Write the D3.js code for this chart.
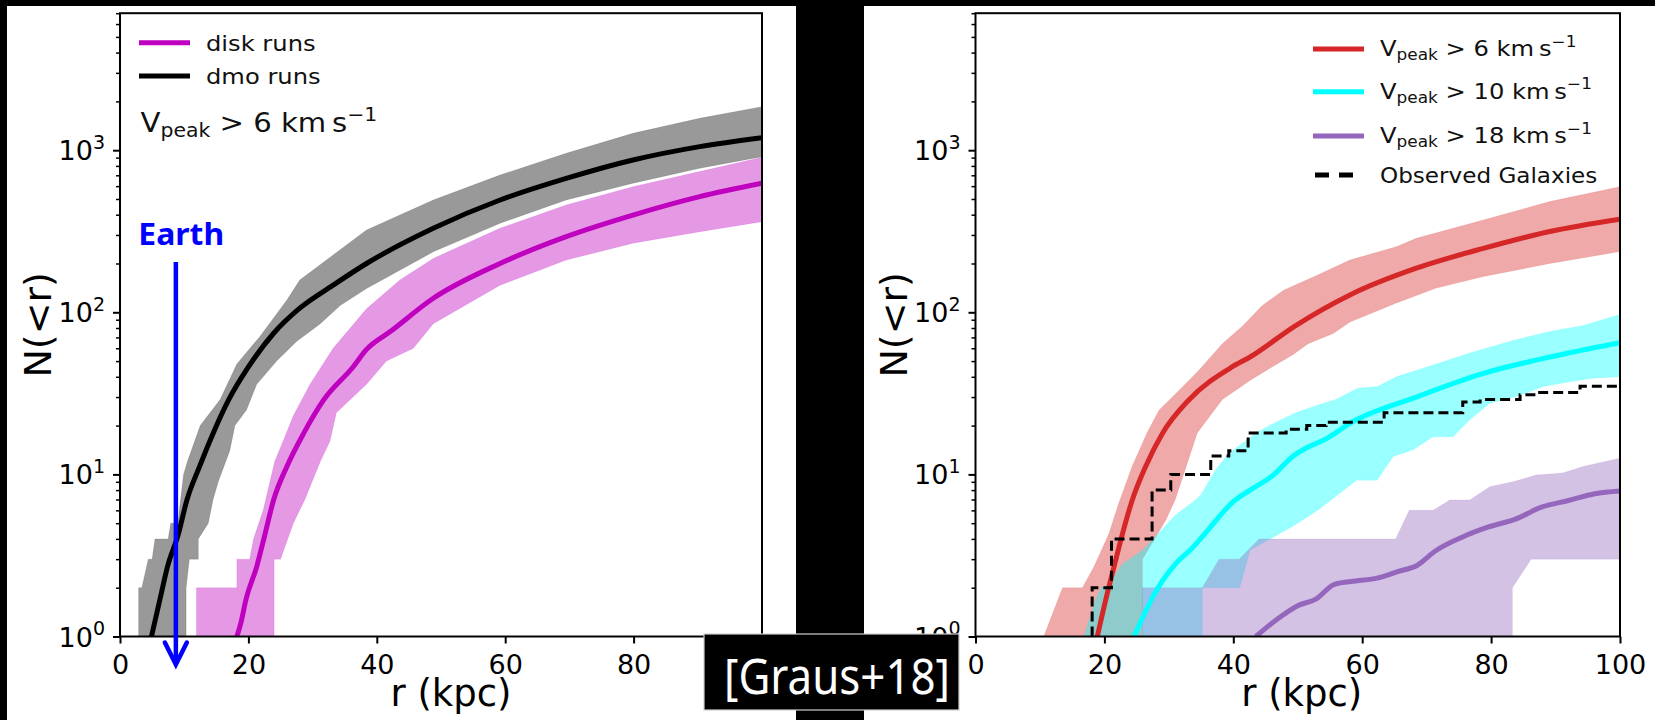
<!DOCTYPE html>
<html><head><meta charset="utf-8">
<script src="https://cdn.jsdelivr.net/npm/d3@7"></script>
<style>html,body{margin:0;padding:0;background:#000;} svg{display:block;} text{white-space:pre;}</style>
</head><body>
<svg id="chart" width="1655" height="720"></svg>
<script>
// ---------------- DATA ----------------
const xTicks = [0, 20, 40, 60, 80, 100];
const yMajor = [1, 10, 100, 1000];
const yMajorExp = ["0", "1", "2", "3"];
const yDomain = [1, 7000];
const xDomain = [0, 100];

// Left panel: [r (kpc), N(<r)]
const diskMedian = [[18.2,1],[18.8,1.2],[19.6,1.68],[21.3,2.7],[22.6,4.3],[23.9,6.9],[26.0,11.2],[28.6,17.9],[31.7,28.7],[36.3,46],[38.4,59],[42.1,76],[48.8,122],[59.2,200],[69.5,293],[79.9,398],[90.3,517],[100,625]];
const diskHi = [[11.9,1],[11.9,2],[18.2,2],[18.2,3],[20.2,3],[20.8,4],[22.3,6],[24.1,12],[25.4,16],[27.0,23],[29.6,36],[33.2,60],[38.4,105],[43.6,158],[48.8,215],[59.2,330],[69.5,459],[79.9,596],[90.3,738],[100,904]];
const diskLo = [[24.0,1],[24.0,3],[25.0,3],[27.0,5],[28.8,7],[31.2,12],[32.7,16],[33.7,24],[36.3,30],[38.4,36],[41.5,50],[45.7,60],[48.8,85],[59.2,147],[69.5,210],[79.9,267],[90.3,314],[100,362]];
const dmoMedian = [[4.9,1],[6.2,1.68],[7.4,2.7],[9.1,4.3],[10.4,6.9],[12.4,11.2],[14.5,17.9],[16.9,28.7],[20.0,46],[23.9,74],[28.0,106],[33.2,147],[38.4,200],[48.8,330],[59.2,493],[69.5,670],[79.9,870],[90.3,1052],[100,1194]];
const dmoHi = [[2.9,1],[2.9,2],[3.4,2],[4.4,3],[5.0,3],[5.45,4],[7.5,4],[7.9,5],[9.0,5],[9.9,10],[10.5,12],[12.5,20],[15.6,29],[18.2,48],[21.8,71],[26.0,119],[28.0,158],[33.2,226],[38.4,322],[48.8,493],[59.2,703],[69.5,957],[79.9,1270],[90.3,1573],[100,1855]];
const dmoLo = [[10.3,1],[10.3,2],[10.8,3],[12.2,3],[12.2,4],[13.75,5],[14.5,7],[15.3,9],[17.1,14],[17.9,20],[19.7,25],[21.3,36],[24.4,50],[27.5,66],[31.2,85],[34.3,110],[38.4,140],[48.8,236],[59.2,354],[69.5,493],[79.9,625],[90.3,773],[100,912]];
const earthR = 8.7;
const earthTopN = 204;

// Right panel
const red6Median = [[18.9,1],[20.2,1.68],[21.5,2.7],[22.8,4.3],[24.3,6.9],[26.4,11.2],[29.0,17.9],[33.1,28.8],[39.8,46],[42.6,53],[49.5,82],[58.1,128],[68.4,187],[78.8,248],[89.1,315],[100,375]];
const red6Hi = [[10.6,1],[13.5,2],[16.6,2],[18.4,2.7],[20.7,4.3],[22.2,6.6],[24.3,11.2],[26.6,18],[28.5,25],[31.6,33],[34.7,44],[38.3,64],[41.4,82],[44.5,110],[47.8,137],[53.1,170],[58.1,210],[65.3,254],[68.4,286],[78.8,371],[89.1,482],[100,595]];
const red6Lo = [[25.9,1],[25.9,3],[29.5,5.2],[31.0,7],[34.4,18],[38.3,29],[42.6,38],[46.0,46],[49.3,55],[51.6,64],[55.5,74],[58.1,87],[65.3,114],[71.5,141],[78.8,166],[89.1,200],[100,237]];
const cyan10Median = [[24.6,1],[25.9,1.3],[27.5,1.75],[29.0,2.2],[31.0,2.8],[33.6,3.5],[36.2,4.6],[40.0,6.8],[42.6,8.0],[46.2,9.9],[49.3,13],[51.4,14.6],[54.3,16.5],[58.4,21],[68.4,30],[78.8,42],[89.1,53],[100,65]];
const cyan10Hi = [[16.8,1],[18.6,1.68],[19.5,2],[20.7,2.1],[22.8,2.8],[25.9,3.4],[29.0,4.6],[31.0,5.6],[34.1,6.95],[35.0,7.5],[37.2,10.6],[39.3,13.5],[41.4,15.5],[43.5,18],[46.6,21],[49.7,24],[52.8,26.5],[55.9,29],[59.3,34],[62.4,34.8],[65.3,40],[71.5,48],[76.7,56],[83.4,67],[89.1,76],[94.3,83],[100,97]];
const cyan10Lo = [[35.2,1],[35.2,2],[41.0,2],[42.6,3.4],[45.7,4.0],[49.3,4.8],[53.1,6.0],[59.1,9.2],[62.3,9.2],[64.8,12.9],[67.9,14.2],[71.0,17.1],[74.1,17.1],[76.7,21.7],[79.8,27.5],[83.9,30.2],[88.1,34.8],[92.2,37.3],[95.8,39.2],[100,40]];
const purple18Median = [[43.5,1],[46.7,1.27],[50.0,1.55],[52.8,1.7],[55.7,2.1],[59.0,2.2],[62.3,2.29],[65.6,2.52],[68.5,2.74],[71.4,3.38],[75.5,4.1],[79.6,4.74],[83.8,5.3],[87.9,6.3],[92.0,6.9],[96.1,7.6],[100,7.9]];
const purple18Hi = [[25.9,1],[25.9,2],[35.2,2],[37.8,3],[40.9,3],[44.0,4],[65.2,4],[67.3,6],[71.0,6],[73.6,6.95],[76.7,6.95],[79.8,8.4],[83.4,9],[87.0,9.9],[91.1,10.2],[94.3,11.2],[100,12.6]];
const purple18Lo = [[83.3,1],[83.3,2],[86.2,3],[100,3]];
const observedR = [18.1, 18.1, 21.1, 27.4, 30.3, 36.5, 39.3, 42.3, 48.2, 51.4, 54.4, 63.4, 75.6, 78.3, 84.5, 87.1, 93.8, 100];
const observedN = [1, 2, 4, 8, 10, 13, 14, 18, 19, 20, 21, 24, 28, 29, 31, 32, 35, 35];

const leftLegendLabels = ["disk runs", "dmo runs"];
const rightLegendValues = ["6", "10", "18"];
const observedLabel = "Observed Galaxies";
const xLabel = "r (kpc)";
const yLabel = "N(<r)";
const citation = "[Graus+18]";
const earthLabel = "Earth";

// ---------------- DRAW ----------------
const FONT = "DejaVu Sans";
const SX = 1.1;
const svg = d3.select("#chart");
svg.append("rect").attr("width", 1655).attr("height", 720).attr("fill", "#000");
svg.append("rect").attr("x", 7).attr("y", 6).attr("width", 789).attr("height", 714).attr("fill", "#fff");
svg.append("rect").attr("x", 864).attr("y", 6).attr("width", 791).attr("height", 714).attr("fill", "#fff");

const yTop = 13.2, yBot = 636.5;

function txt(parent, x, y, size, opts = {}) {
  const sx = opts.sx === undefined ? SX : opts.sx;
  const t = parent.append("text")
    .attr("transform", `translate(${x},${y}) scale(${sx},1)`)
    .attr("font-family", opts.family || FONT)
    .attr("font-size", size)
    .attr("fill", opts.fill || "#000")
    .attr("text-anchor", opts.anchor || "start");
  if (opts.weight) t.attr("font-weight", opts.weight);
  if (opts.text !== undefined) t.text(opts.text);
  return t;
}
function vpeak(t, value, size) {
  t.append("tspan").text("V");
  t.append("tspan").attr("font-size", size * 0.7).attr("dy", size * 0.2).text("peak");
  t.append("tspan").attr("dy", -size * 0.2).text(` > ${value} km\u2009s`);
  t.append("tspan").attr("font-size", size * 0.7).attr("dy", -size * 0.42).text("\u22121");
}

function makePanel(id, x0, x1, hideLastX, labelShift) {
  const x = d3.scaleLinear().domain(xDomain).range([x0, x1]);
  const y = d3.scaleLog().domain(yDomain).range([yBot, yTop]);
  const g = svg.append("g");
  svg.append("clipPath").attr("id", "clip" + id).append("rect")
    .attr("x", x0).attr("y", yTop).attr("width", x1 - x0).attr("height", yBot - yTop);
  const plot = g.append("g").attr("clip-path", `url(#clip${id})`);
  const xa = g.append("g").attr("transform", `translate(0,${yBot})`)
    .call(d3.axisBottom(x).tickValues(xTicks).tickSize(7).tickPadding(11)
      .tickFormat(d => (hideLastX && d === xDomain[1]) ? "" : d3.format("d")(d)));
  xa.select(".domain").remove();
  xa.selectAll(".tick line").attr("stroke-width", 2);
  xa.selectAll(".tick text").attr("font-family", FONT).attr("font-size", 27).attr("fill", "#000");
  const minor = [];
  for (let k = 0; k < 4; k++) for (let m = 2; m <= 9; m++) { const v = m * Math.pow(10, k); if (v <= yDomain[1]) minor.push(v); }
  const ya2 = g.append("g").attr("transform", `translate(${x0},0)`)
    .call(d3.axisLeft(y).tickValues(minor).tickSize(4).tickFormat(""));
  ya2.select(".domain").remove();
  ya2.selectAll(".tick line").attr("stroke-width", 1.5);
  const ya = g.append("g").attr("transform", `translate(${x0},0)`)
    .call(d3.axisLeft(y).tickValues(yMajor).tickSize(7).tickFormat(""));
  ya.select(".domain").remove();
  ya.selectAll(".tick line").attr("stroke-width", 2);
  yMajor.forEach((v, i) => {
    const t = txt(g, x0 - 15, y(v) + 10, 27, { anchor: "end", sx: 1 });
    t.append("tspan").text("10");
    t.append("tspan").attr("font-size", 19).attr("dy", -11.5).text(yMajorExp[i]);
  });
  txt(g, (x0 + x1) / 2 + labelShift, 706, 37, { anchor: "middle", text: xLabel, sx: 1 });
  g.append("text").attr("transform", `translate(${x0 - 69},${(yTop + yBot) / 2}) rotate(-90)`)
    .attr("font-family", FONT).attr("font-size", 38).attr("text-anchor", "middle").attr("fill", "#000").text(yLabel);
  return { x, y, g, plot, x0, x1 };
}

function band(p, hi, lo, color) {
  const pts = hi.concat(lo.slice().reverse());
  p.plot.append("path").attr("d", d3.line().x(d => p.x(d[0])).y(d => p.y(d[1]))(pts) + "Z")
    .attr("fill", color).attr("fill-opacity", 0.4).attr("stroke", color).attr("stroke-opacity", 0.15).attr("stroke-width", 0.8);
}
function median(p, data, color, w) {
  p.plot.append("path").attr("d", d3.line().curve(d3.curveMonotoneX).x(d => p.x(d[0])).y(d => p.y(d[1]))(data))
    .attr("fill", "none").attr("stroke", color).attr("stroke-width", w || 5).attr("stroke-linejoin", "round");
}
function frame(p) {
  p.g.append("rect").attr("x", p.x0).attr("y", yTop).attr("width", p.x1 - p.x0).attr("height", yBot - yTop)
    .attr("fill", "none").attr("stroke", "#000").attr("stroke-width", 2);
}

// ----- left panel -----
const L = makePanel("L", 120, 762, true, 10);
band(L, diskHi, diskLo, "#bf00bf");
band(L, dmoHi, dmoLo, "#000");
median(L, diskMedian, "#bf00bf");
median(L, dmoMedian, "#000");
frame(L);
[["#bf00bf", 42.7], ["#000", 76]].forEach((c, i) => {
  L.g.append("line").attr("x1", 139).attr("x2", 190).attr("y1", c[1]).attr("y2", c[1]).attr("stroke", c[0]).attr("stroke-width", 5);
  txt(L.g, 206, c[1] + 7.8, 22, { text: leftLegendLabels[i], fill: "#111" });
});
vpeak(txt(L.g, 140.5, 131.7, 26.5, { fill: "#111" }), "6", 26.5);
// Earth annotation
const ex = L.x(earthR);
txt(svg, 138.3, 245, 31, { family: "Noto Sans", weight: "bold", fill: "#0000ff", text: earthLabel, sx: 1.03 });
svg.append("line").attr("x1", ex).attr("x2", ex).attr("y1", L.y(earthTopN)).attr("y2", L.y(1) + 26)
  .attr("stroke", "#0000ff").attr("stroke-width", 4.5);
svg.append("path").attr("d", d3.line()([[ex - 11, L.y(1) + 6], [ex, L.y(1) + 28], [ex + 11, L.y(1) + 6]]))
  .attr("fill", "none").attr("stroke", "#0000ff").attr("stroke-width", 4.5).attr("stroke-linecap", "round");

// ----- right panel -----
const R = makePanel("R", 975.5, 1620, false, 4);
band(R, red6Hi, red6Lo, "#d62728");
band(R, cyan10Hi, cyan10Lo, "#00ffff");
band(R, purple18Hi, purple18Lo, "#9467bd");
median(R, red6Median, "#d62728");
median(R, cyan10Median, "#00ffff");
median(R, purple18Median, "#9467bd");
const obs = observedR.map((r, i) => [r, observedN[i]]);
R.plot.append("path").attr("d", d3.line().curve(d3.curveStepAfter).x(d => R.x(d[0])).y(d => R.y(d[1]))(obs))
  .attr("fill", "none").attr("stroke", "#000").attr("stroke-width", 3).attr("stroke-dasharray", "10,5");
frame(R);
const legColors = ["#d62728", "#00ffff", "#9467bd"];
const legY = [49, 91.7, 136];
legColors.forEach((c, i) => {
  R.g.append("line").attr("x1", 1313).attr("x2", 1364).attr("y1", legY[i]).attr("y2", legY[i]).attr("stroke", c).attr("stroke-width", 5);
  vpeak(txt(R.g, 1380, legY[i] + 6.8, 22, { fill: "#111" }), rightLegendValues[i], 22);
});
R.g.append("line").attr("x1", 1315).attr("x2", 1356).attr("y1", 175).attr("y2", 175)
  .attr("stroke", "#000").attr("stroke-width", 5).attr("stroke-dasharray", "14,10");
txt(R.g, 1380, 183, 21, { text: observedLabel, fill: "#111" });

// citation box
svg.append("rect").attr("x", 704).attr("y", 634).attr("width", 255).attr("height", 76)
  .attr("fill", "#000").attr("stroke", "#cfcfcf").attr("stroke-width", 1.2);
svg.append("text").attr("x", 724).attr("y", 694)
  .attr("font-family", "Noto Sans").attr("font-size", 49).attr("fill", "#fff")
  .attr("textLength", 226).attr("lengthAdjust", "spacingAndGlyphs").text(citation);
</script>
</body></html>
